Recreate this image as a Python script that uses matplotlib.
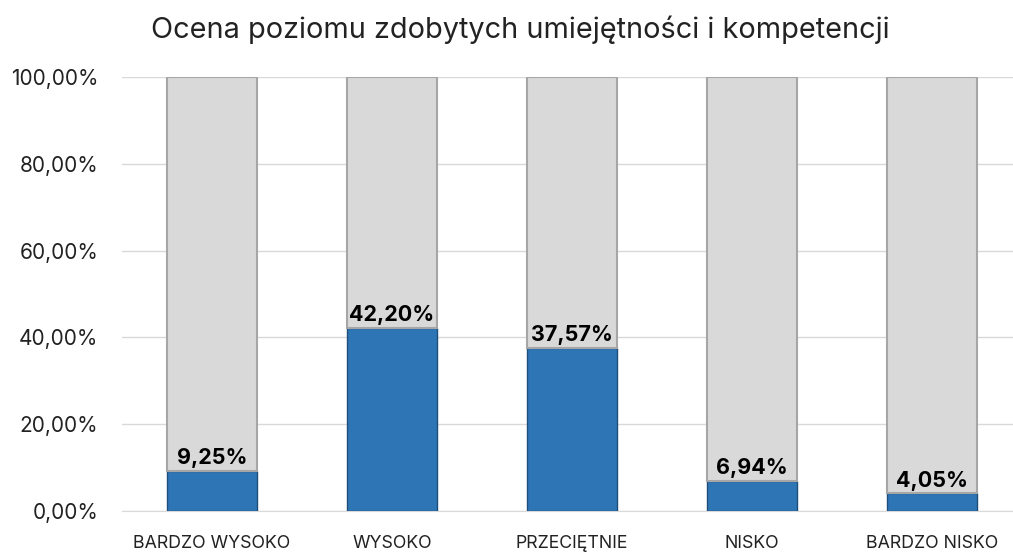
import matplotlib
matplotlib.use("Agg")
import matplotlib.pyplot as plt
from matplotlib.ticker import FuncFormatter

categories = ["BARDZO WYSOKO", "WYSOKO", "PRZECIĘTNIE", "NISKO", "BARDZO NISKO"]
values = [9.25, 42.20, 37.57, 6.94, 4.05]
rest = [100 - v for v in values]
yticks = [0, 20, 40, 60, 80, 100]

plt.rcParams['font.family'] = ['Inter', 'DejaVu Sans']

fig = plt.figure(figsize=(10.13, 5.52), dpi=100)
ax = fig.add_axes([122/1013, 1-511/552, 900/1013, 434/552])

x = range(len(categories))
ax.bar(x, values, width=0.5, color="#2e75b6", edgecolor="#1f4e79", linewidth=1, zorder=3)
ax.bar(x, rest, bottom=values, width=0.5, color="#d9d9d9", edgecolor="#a6a6a6", linewidth=1.5, zorder=3)

for i, v in enumerate(values):
    ax.text(i, v + 0.6, f"{v:.2f}%".replace(".", ","), ha="center", va="bottom",
            fontsize=15.5, fontweight="bold", color="black", zorder=4)

ax.set_xlim(-0.5, len(categories) - 0.5)
ax.set_ylim(0, 100)
ax.set_yticks(yticks)
ax.yaxis.set_major_formatter(FuncFormatter(lambda v, p: f"{v:.2f}%".replace(".", ",")))
ax.set_xticks(list(x))
ax.set_xticklabels(categories)
ax.tick_params(axis="y", length=0, pad=17, labelsize=15, colors="#222222")
ax.tick_params(axis="x", length=0, pad=17, labelsize=12.8, colors="#222222")
ax.grid(axis="y", color="#d9d9d9", linewidth=1, zorder=0)
for s in ["top", "right", "left"]:
    ax.spines[s].set_visible(False)
ax.spines["bottom"].set_color("#d9d9d9")

fig.text(0.514, 1 - 30/552, "Ocena poziomu zdobytych umiejętności i kompetencji",
         ha="center", va="center", fontsize=20.8, color="#222222")

fig.savefig("out.png", dpi=100)
